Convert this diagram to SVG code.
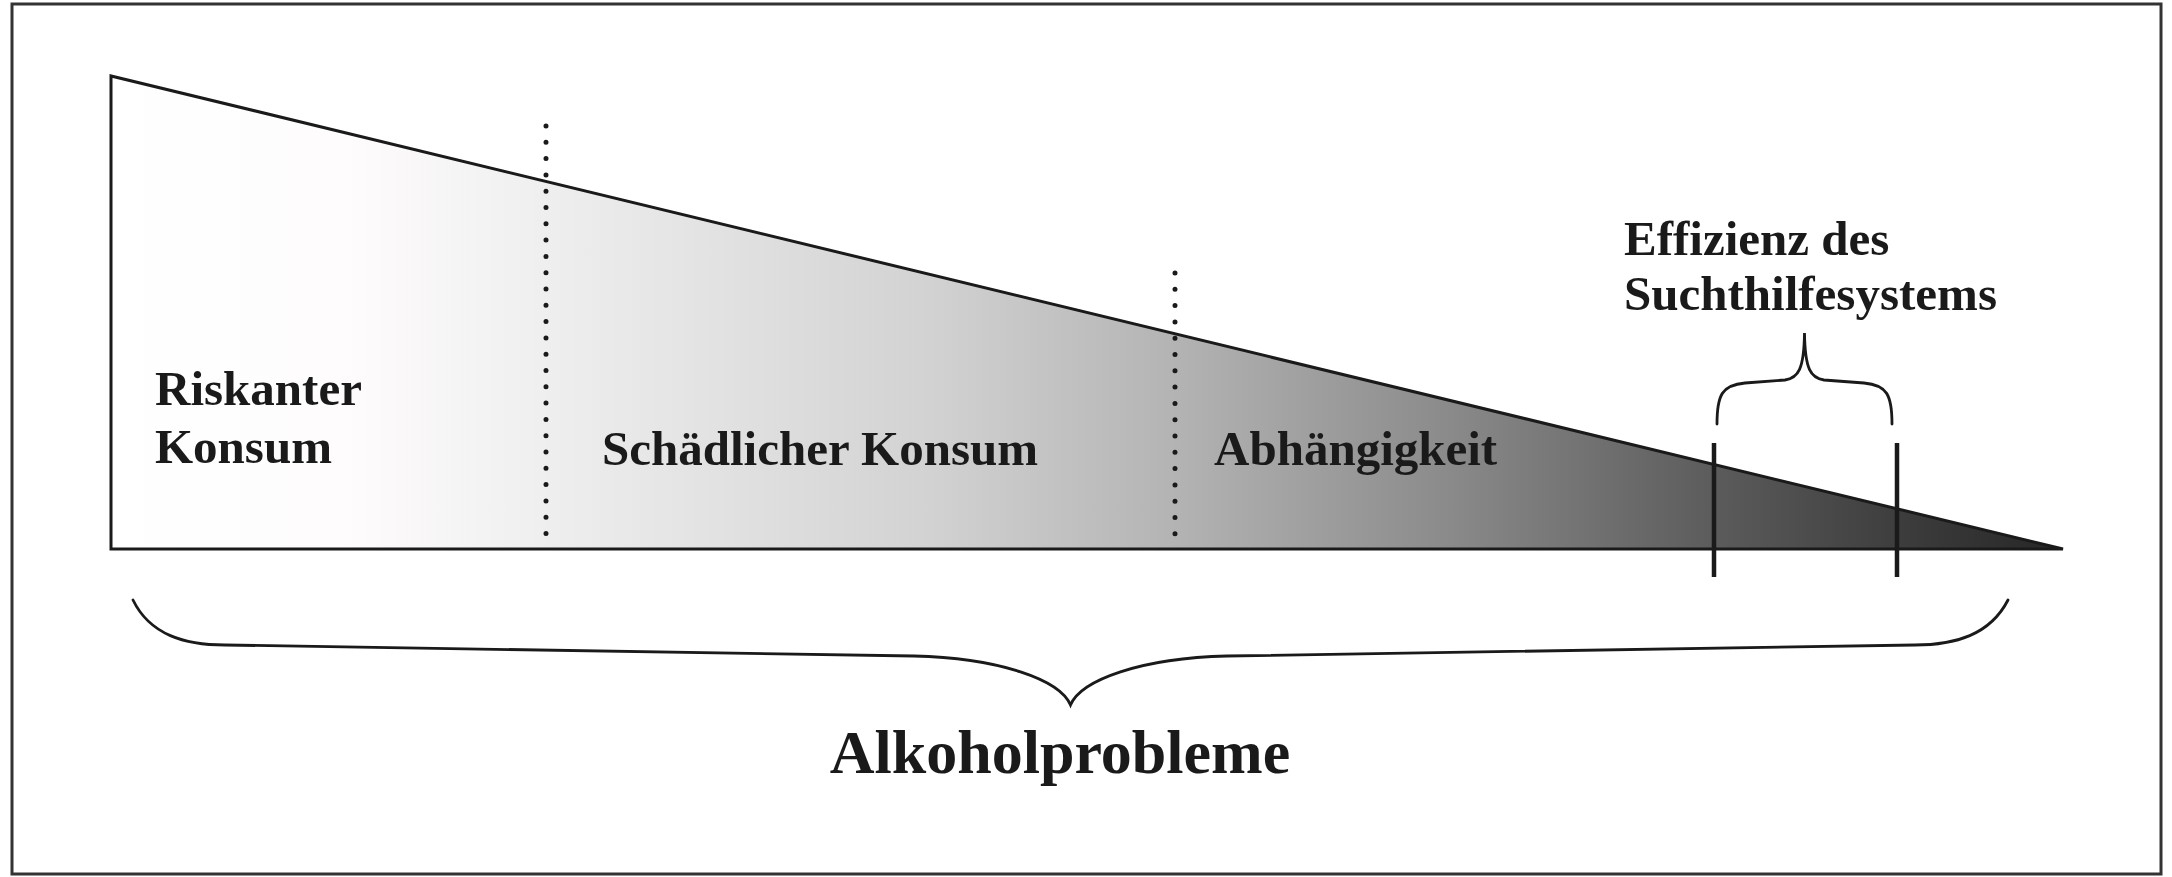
<svg xmlns="http://www.w3.org/2000/svg" width="2172" height="877" viewBox="0 0 2172 877">
<defs>
<linearGradient id="shade" gradientUnits="userSpaceOnUse" x1="111" y1="0" x2="2063" y2="0">
<stop offset="0" stop-color="#ffffff"/>
<stop offset="0.12" stop-color="#fefcfc"/>
<stop offset="0.22" stop-color="#f0efef"/>
<stop offset="0.42" stop-color="#d2d2d2"/>
<stop offset="0.55" stop-color="#b2b2b2"/>
<stop offset="0.68" stop-color="#8c8c8c"/>
<stop offset="0.82" stop-color="#5c5c5c"/>
<stop offset="0.92" stop-color="#3c3c3c"/>
<stop offset="1" stop-color="#262626"/>
</linearGradient>
<style>
.lbl{font-family:"Liberation Serif","Times New Roman",serif;font-weight:bold;font-size:49px;fill:#1a1a1a}
.big{font-size:62px}
.dot{stroke:#1a1a1a;stroke-width:5;stroke-linecap:round;stroke-dasharray:0 16.3;fill:none}
.tick{stroke:#1a1a1a;stroke-width:4.5;fill:none}
.brace{stroke:#1a1a1a;stroke-width:2.8;fill:none;stroke-linecap:round}
</style>
</defs>
<rect x="0" y="0" width="2172" height="877" fill="#ffffff"/>
<rect id="frame" x="12" y="4" width="2149" height="870" fill="none" stroke="#333333" stroke-width="3"/>
<g id="triangle">
<polygon points="111,76 111,549 2063,549" fill="url(#shade)" stroke="#1a1a1a" stroke-width="3" stroke-linejoin="miter"/>
</g>
<g id="connectors">
<line class="dot" x1="546" y1="126" x2="546" y2="549"/>
<line class="dot" x1="1175" y1="273" x2="1175" y2="549"/>
<line class="tick" x1="1714" y1="443" x2="1714" y2="577"/>
<line class="tick" x1="1897" y1="443" x2="1897" y2="577"/>
<path class="brace" d="M1717,424 C1717,395 1722,385 1745,383 L1785,380 C1798,378 1804,370 1804.5,333 C1805,370 1811,378 1824,380 L1864,383 C1887,385 1892,395 1892,424"/>
<path class="brace" d="M133,600 C150,635 185,645 225,645 L914,656 C1000,658 1060,680 1070.5,705 C1081,680 1141,658 1227,656 L1915,645 C1955,645 1990,635 2008,600"/>
</g>
<g id="riskant"><text class="lbl" x="155" y="405">Riskanter</text><text class="lbl" x="155" y="463">Konsum</text></g>
<g id="schaedlich"><text class="lbl" x="602" y="465">Schädlicher Konsum</text></g>
<g id="abhaengig"><text class="lbl" x="1214" y="465">Abhängigkeit</text></g>
<g id="effizienz"><text class="lbl" x="1624" y="255">Effizienz des</text><text class="lbl" x="1624" y="310">Suchthilfesystems</text></g>
<g id="alkohol"><text class="lbl big" x="1060" y="773" text-anchor="middle">Alkoholprobleme</text></g>
</svg>
